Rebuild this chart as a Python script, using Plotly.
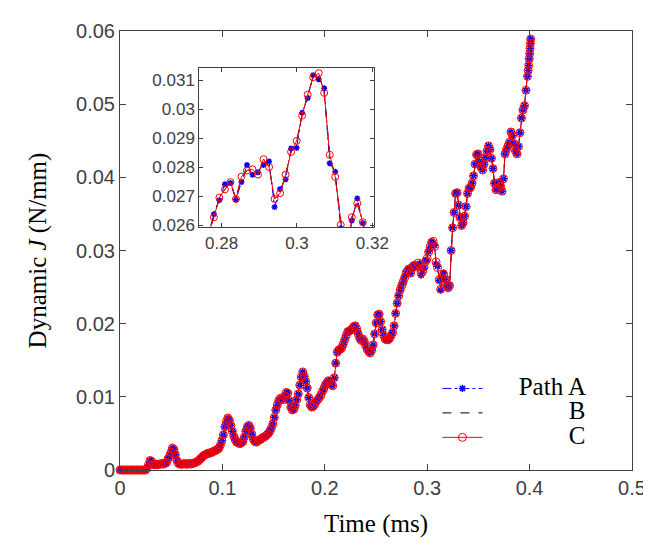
import plotly.graph_objects as go

# ---------------- data ----------------
t_step = 0.001463  # sampling interval of the uniform part (ms)

J_C_grid = [
    0, 0, 0, 0, 0, 0, 0, 0, 0, 0,
    0, 0, 0, 0, 0, 0, 0, 0, 0.0002, 0.0007,
    0.0013, 0.0012, 0.0008, 0.0007, 0.0008, 0.0007, 0.0008, 0.0008, 0.0009, 0.0008,
    0.0009, 0.0010, 0.0015, 0.0019, 0.0024, 0.0030, 0.0028, 0.0021, 0.0013, 0.0009,
    0.0008, 0.0008, 0.0008, 0.0009, 0.0008, 0.0008, 0.0009, 0.0008, 0.0009, 0.0009,
    0.0010, 0.0011, 0.0012, 0.0014, 0.0016, 0.0018, 0.0020, 0.0021, 0.0022, 0.0023,
    0.0023, 0.0024, 0.0025, 0.0026, 0.0027, 0.0028, 0.0030, 0.0034, 0.0040, 0.0048,
    0.0059, 0.0066, 0.0071, 0.0068, 0.0061, 0.0053, 0.0046, 0.0041, 0.0038, 0.0037,
    0.0036, 0.0037, 0.0039, 0.0045, 0.0053, 0.0059, 0.0061, 0.0057, 0.0049, 0.0042,
    0.0039, 0.0038, 0.0040, 0.0041, 0.0042, 0.0044, 0.0045, 0.0046, 0.0048, 0.0050,
    0.0053, 0.0057, 0.0063, 0.0072, 0.0082, 0.0089, 0.0095, 0.0098, 0.0097, 0.0096,
    0.0101, 0.0106, 0.0105, 0.0095, 0.0086, 0.0082, 0.0083, 0.0088, 0.0096, 0.0104,
    0.0116, 0.0127, 0.0134, 0.0128, 0.0121, 0.0112, 0.0099, 0.0089, 0.0086, 0.0087,
    0.0090, 0.0094, 0.0096, 0.0099, 0.0102, 0.0107, 0.0111, 0.0116, 0.0119, 0.0122,
    0.0121, 0.0117, 0.0115, 0.0126, 0.0146, 0.0161, 0.0164, 0.0165, 0.0167, 0.0172,
    0.0178, 0.0184, 0.0189, 0.0190, 0.0191, 0.0193, 0.0196, 0.0197, 0.0193, 0.0186,
    0.0180, 0.0177, 0.0179, 0.0176, 0.0170, 0.0165, 0.0162, 0.0160, 0.0164, 0.0171,
    0.0186, 0.0201, 0.0212, 0.0213, 0.0203, 0.0192, 0.0184, 0.0179, 0.0178, 0.0178,
    0.0180, 0.0184, 0.0188, 0.0197, 0.0214, 0.0228, 0.0238, 0.0246, 0.0252, 0.0257,
    0.02628, 0.02696, 0.02724, 0.02749, 0.02691, 0.02768, 0.02789, 0.02793, 0.02775, 0.02828,
    0.02801, 0.02691, 0.02711, 0.02775, 0.02853, 0.02891, 0.02978, 0.03050, 0.03110, 0.03124,
    0.03056, 0.02843, 0.02767, 0.02602, 0.0247, 0.02628, 0.02676, 0.02611, 0.0253, 0.0249,
    0.0252, 0.0300, 0.0331, 0.0352, 0.0378, 0.0379, 0.0362, 0.0345, 0.0334, 0.0338,
    0.0347, 0.0360, 0.0378, 0.0385, 0.0386, 0.0392, 0.0402, 0.0418, 0.0431, 0.0432,
    0.0422, 0.0414, 0.0410, 0.0418, 0.0427, 0.0436, 0.0443, 0.0438, 0.0426, 0.0412,
    0.0392, 0.0383, 0.0385, 0.0393, 0.0388, 0.0381, 0.0398, 0.0432, 0.0438, 0.0443,
    0.0448, 0.0462, 0.0457, 0.0446, 0.0436, 0.0432, 0.0442, 0.0461, 0.0481, 0.0492,
    0.0498, 0.0519, 0.0538,
]

# final, more finely sampled steps
tail_time = [0.3986, 0.3991, 0.3996, 0.4001, 0.4005, 0.4008, 0.4011]
tail_J = [0.0546, 0.0553, 0.0562, 0.0569, 0.0576, 0.0583, 0.0589]

# Path A differs slightly from C in the zoomed window (samples 190..217)
J_A_window = [
    0.02639, 0.02687, 0.02742, 0.02746, 0.02689, 0.02749, 0.02808, 0.02774, 0.02783, 0.02808,
    0.02820, 0.02663, 0.02725, 0.02759, 0.02865, 0.02867, 0.02988, 0.03038, 0.03117, 0.03103,
    0.03072, 0.02814, 0.02785, 0.02590, 0.0246, 0.02617, 0.02693, 0.02608,
]
win_start, win_end = 190, 218

time = [round(i * t_step, 6) for i in range(len(J_C_grid))] + tail_time
J_C = J_C_grid + tail_J
J_B = J_C_grid + tail_J
J_A = J_C_grid[:win_start] + J_A_window + J_C_grid[win_end:] + tail_J

series_labels = ["Path A", "B", "C"]
label_pad = [5, 13, 13]  # non-breaking spaces to right-align the legend labels

def legend_name(label, pad):
    return '<span style="font-size:25px">' + "\u00a0" * pad + label + "</span>"

names = [legend_name(l, p) for l, p in zip(series_labels, label_pad)]

# ---------------- figure ----------------
fig = go.Figure()

def add_series(xa, ya, show, msize_c, msize_a, clip):
    fig.add_trace(go.Scatter(
        x=time, y=J_A, name=names[0], mode="lines+markers", showlegend=show,
        xaxis=xa, yaxis=ya, cliponaxis=clip,
        line=dict(color="#0000ff", width=1, dash="dashdot"),
        marker=dict(symbol="asterisk-open", size=msize_a, color="#0000ff",
                    line=dict(color="#0000ff", width=1.5)),
    ))
    fig.add_trace(go.Scatter(
        x=time, y=J_B, name=names[1], mode="lines", showlegend=show,
        xaxis=xa, yaxis=ya, cliponaxis=clip,
        line=dict(color="#000000", width=1, dash="dash"),
    ))
    fig.add_trace(go.Scatter(
        x=time, y=J_C, name=names[2], mode="lines+markers", showlegend=show,
        xaxis=xa, yaxis=ya, cliponaxis=clip,
        line=dict(color="#ff0000", width=1),
        marker=dict(symbol="circle-open", size=msize_c, color="#ff0000",
                    line=dict(color="#ff0000", width=1)),
    ))

add_series("x", "y", True, 8, 6, False)
add_series("x2", "y2", False, 7, 5, True)

axis_col = "#404040"
tick_font = dict(family="Liberation Sans, Arial, sans-serif", size=20, color=axis_col)
title_font = dict(family="Liberation Serif, Times New Roman, serif", size=25, color="#000000")
inset_font = dict(family="Liberation Sans, Arial, sans-serif", size=17, color=axis_col)

fig.update_layout(
    width=651, height=543,
    margin=dict(l=112, r=14, t=17, b=81),
    paper_bgcolor="white", plot_bgcolor="white",
    showlegend=True,
    legend=dict(
        x=0.62, y=0.225, xanchor="left", yanchor="top",
        bgcolor="rgba(0,0,0,0)", borderwidth=0,
        font=dict(family="Liberation Serif, Times New Roman, serif", size=16.5, color="#000000"),
        itemwidth=40,
    ),
    xaxis=dict(
        domain=[0, 1], range=[0, 0.5], tickvals=[0, 0.1, 0.2, 0.3, 0.4, 0.5],
        ticks="inside", ticklen=6, tickcolor=axis_col, showline=True, linecolor=axis_col,
        linewidth=1, mirror="ticks", showgrid=False, zeroline=False, tickfont=tick_font,
        title=dict(text="Time (ms)", font=title_font, standoff=16),
    ),
    yaxis=dict(
        domain=[0, 1], range=[0, 0.06], tickvals=[0, 0.01, 0.02, 0.03, 0.04, 0.05, 0.06],
        ticks="inside", ticklen=6, tickcolor=axis_col, showline=True, linecolor=axis_col,
        linewidth=1, mirror="ticks", showgrid=False, zeroline=False, tickfont=tick_font,
        title=dict(text="Dynamic <i>J</i> (N/mm)", font=title_font, standoff=22),
    ),
    xaxis2=dict(
        domain=[0.1549, 0.4958], anchor="y2", range=[0.2741, 0.3204],
        tickvals=[0.28, 0.3, 0.32],
        ticks="inside", ticklen=4, tickcolor=axis_col, showline=True, linecolor=axis_col,
        linewidth=1, mirror="ticks", showgrid=False, zeroline=False, tickfont=inset_font,
    ),
    yaxis2=dict(
        domain=[0.5525, 0.9159], anchor="x2", range=[0.02593, 0.03142],
        tickvals=[0.026, 0.027, 0.028, 0.029, 0.03, 0.031],
        ticks="inside", ticklen=4, tickcolor=axis_col, showline=True, linecolor=axis_col,
        linewidth=1, mirror="ticks", showgrid=False, zeroline=False, tickfont=inset_font,
    ),
)

fig.write_html("out.html")
